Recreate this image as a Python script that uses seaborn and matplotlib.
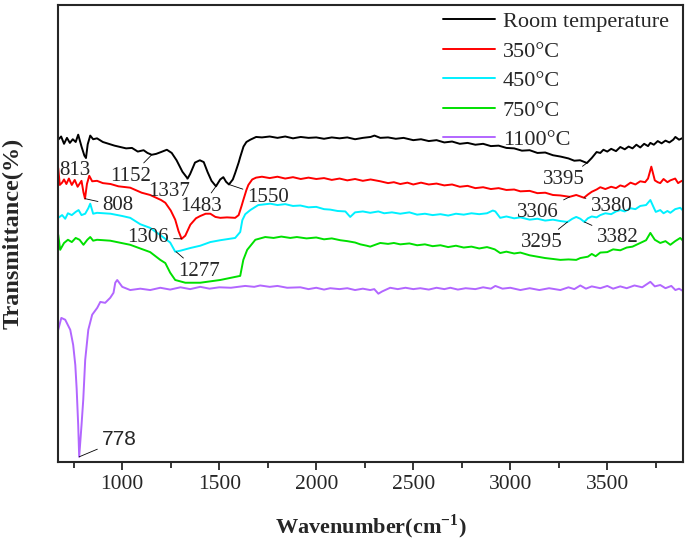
import pandas as pd
import matplotlib
matplotlib.use("Agg")
import matplotlib.pyplot as plt
import seaborn as sns

# FTIR spectra (wavenumber in cm-1, transmittance in arbitrary %)
rt_wn = [670, 685, 700, 715, 730, 745, 760, 773, 790, 805, 813, 822, 835, 850, 870, 900, 930, 960,
         990, 1020, 1050, 1080, 1110, 1130, 1152, 1175, 1200, 1230, 1255, 1280, 1310, 1337, 1350,
         1375, 1400, 1420, 1440, 1460, 1483, 1505, 1521, 1535, 1550, 1570, 1582, 1600, 1608, 1625,
         1640, 1660, 1690, 1720,
         1760, 1800, 1840, 1880, 1920, 1960, 2000, 2040, 2080, 2120, 2160, 2200, 2240, 2280, 2300,
         2330, 2370, 2410, 2450, 2500, 2540, 2580, 2620, 2660, 2700, 2740, 2780, 2820, 2860, 2900,
         2940, 2980, 3020, 3060, 3100, 3140, 3180, 3220, 3260, 3300, 3330, 3360, 3395, 3420, 3445,
         3464, 3480, 3500, 3520, 3545, 3567, 3590, 3610, 3630, 3650, 3670, 3690, 3710, 3722, 3740,
         3760, 3780, 3800, 3820, 3840, 3851, 3870, 3890]
rt_t = [70.5, 71.2, 69.6, 70.9, 69.8, 70.6, 70.0, 71.6, 69.0, 67.0, 66.5, 69.5, 71.4, 70.6, 70.8,
        70.0, 69.6, 69.2, 68.9, 68.6, 68.7, 67.9, 68.2, 67.6, 67.2, 67.4, 67.8, 68.3, 67.6, 66.0,
        63.5, 62.0, 63.0, 65.5, 66.0, 65.6, 63.4, 61.5, 60.3, 61.8, 62.3, 61.3, 60.7, 61.8, 63.2,
        65.5, 66.7, 69.0, 70.0, 70.5, 71.1, 71.0,
        71.2, 70.9, 71.2, 70.8, 71.1, 70.9, 71.0, 70.7, 71.0, 70.8, 71.0, 70.6, 70.9, 71.1, 71.4,
        70.9, 71.0, 70.7, 70.9, 70.4, 70.6, 70.2, 70.4, 69.9, 70.1, 69.6, 69.8, 69.4, 69.6, 69.1,
        69.2, 68.7, 68.6, 68.1, 68.2, 67.6, 67.7, 67.1, 66.8, 66.4, 65.9, 66.0, 65.4, 66.5, 67.8,
        67.6, 68.3, 67.9, 68.5, 68.0, 68.9, 68.4, 69.0, 68.6, 69.4, 68.8, 69.6, 69.1, 69.8, 69.4,
        70.2, 69.7, 70.3, 69.9, 70.5, 71.1, 70.5, 70.9]

r350_wn = [670, 678, 690, 700, 712, 725, 740, 755, 770, 790, 800, 808, 818, 830, 845, 870, 900, 940,
           980, 1041, 1100, 1144, 1200, 1222, 1250, 1273, 1290, 1306, 1325, 1351, 1380, 1402, 1430,
           1454, 1480, 1505, 1540, 1582, 1600, 1615, 1624, 1640, 1650, 1670, 1690, 1720,
           1760, 1800, 1840, 1880, 1920, 1960, 2000, 2040, 2080, 2120, 2160, 2200, 2240, 2280, 2330,
           2370, 2400, 2433, 2470, 2500, 2540, 2580, 2620, 2660, 2700, 2740, 2780, 2820, 2860, 2900,
           2940, 2980, 3020, 3052, 3100, 3140, 3180, 3220, 3258, 3306, 3340, 3360, 3380, 3400, 3420,
           3445, 3464, 3490, 3520, 3545, 3567, 3590, 3620, 3645, 3670, 3695, 3710, 3727, 3745, 3760,
           3773, 3790, 3810, 3825, 3850, 3865, 3876, 3890]
r350_t = [64.3, 60.6, 61.1, 61.8, 60.8, 62.0, 60.6, 61.7, 60.2, 61.5, 59.0, 57.6, 60.8, 62.6, 61.4,
          61.5, 61.0, 60.8, 60.3, 60.0, 58.9, 58.4, 57.3, 56.7, 55.0, 53.0, 50.5, 48.8, 49.5, 51.9,
          53.3, 53.8, 54.3, 54.3, 53.6, 53.4, 53.5, 53.4, 54.0, 56.0, 57.3, 59.5, 60.6, 61.8, 62.2,
          62.4,
          62.1, 62.4, 62.0, 62.3, 61.9, 62.2, 61.9, 62.1, 61.7, 62.0, 61.6, 61.9, 61.5, 61.8, 61.4,
          61.0, 61.2, 60.8, 61.1, 60.7, 61.1, 60.7, 60.9, 60.5, 60.7, 60.2, 60.4, 59.9, 60.1, 59.7,
          59.9, 59.5, 59.6, 59.2, 59.3, 58.8, 58.9, 58.4, 58.3, 58.0, 58.4, 58.1, 57.8, 58.5, 59.1,
          59.6, 60.1, 59.7, 60.2, 59.9, 60.5, 60.2, 61.1, 60.7, 61.4, 61.2, 62.0, 64.6, 61.6, 61.2,
          61.0, 61.9, 61.2, 61.6, 62.0, 61.0, 61.3, 61.6]

c450_wn = [670, 690, 706, 720, 740, 760, 775, 790, 809, 825, 835, 850, 870, 940, 1000, 1041, 1093,
           1144, 1200, 1247, 1273, 1299, 1351, 1402, 1454, 1505, 1582, 1608, 1619, 1634, 1660, 1701,
           1763, 1800, 1840, 1880, 1918, 1960, 2000, 2040, 2072, 2110, 2150, 2175, 2200, 2240, 2278,
           2320, 2350, 2390, 2433, 2480, 2520, 2560, 2600, 2640, 2680, 2720, 2760, 2800, 2840, 2880,
           2910, 2923, 2948, 2980, 3020, 3052, 3100, 3140, 3180, 3220, 3258, 3295, 3320, 3340, 3361,
           3382, 3400, 3420, 3445, 3464, 3490, 3520, 3545, 3567, 3590, 3620, 3645, 3670, 3700, 3722,
           3740, 3750, 3773, 3790, 3810, 3825, 3850, 3876, 3890]
c450_t = [53.4, 54.0, 53.2, 54.4, 54.0, 54.7, 55.1, 54.0, 54.3, 55.5, 56.5, 54.3, 54.5, 54.3, 53.8,
          53.4, 52.0, 51.2, 49.5, 48.0, 46.0, 46.2, 46.8, 47.3, 48.1, 48.5, 49.0, 50.3, 52.9, 54.2,
          55.1, 56.2,
          56.5, 56.2, 56.4, 56.0, 56.1, 55.7, 55.8, 55.3, 55.2, 54.9, 54.8, 53.6, 54.6, 54.8, 54.5,
          54.8, 54.4, 54.6, 54.3, 54.6, 54.1, 54.3, 54.0, 54.2, 53.9, 54.3, 54.1, 54.4, 54.2, 54.4,
          55.0, 54.8, 53.4, 53.7, 53.3, 53.5, 53.0, 53.2, 52.8, 53.0, 52.7, 52.5, 53.2, 53.6, 53.2,
          52.5, 53.3, 53.7, 53.5, 54.0, 54.4, 54.2, 54.8, 55.1, 54.8, 55.5, 55.3, 56.0, 56.2, 57.3,
          55.6, 54.7, 55.1, 54.4, 54.9, 54.5, 55.3, 55.6, 55.0]

g750_wn = [670, 680, 700, 720, 740, 760, 780, 800, 820, 835, 850, 870, 938, 1041, 1144, 1196, 1222,
           1247, 1273, 1325, 1402, 1505, 1608, 1624, 1644, 1686,
           1737, 1780, 1820, 1866, 1900, 1950, 2000, 2040, 2080, 2124, 2160, 2200, 2227, 2260, 2278,
           2310, 2330, 2370, 2400, 2433, 2480, 2520, 2560, 2600, 2640, 2680, 2720, 2760, 2800, 2840,
           2880, 2897, 2920, 2948, 2980, 3020, 3052, 3100, 3140, 3180, 3220, 3258, 3300, 3340, 3361,
           3400, 3420, 3440, 3464, 3500, 3530, 3567, 3600, 3630, 3670, 3700, 3722, 3745, 3773, 3800,
           3825, 3850, 3876, 3890]
g750_t = [49.7, 46.4, 47.9, 48.6, 48.1, 49.0, 48.6, 47.5, 48.6, 49.2, 48.4, 48.6, 48.4, 47.5, 45.9,
          44.2, 43.5, 41.4, 39.8, 39.2, 39.2, 39.8, 40.7, 44.2, 46.4, 48.6,
          49.2, 49.0, 49.3, 49.0, 49.2, 48.9, 49.1, 48.7, 48.9, 48.5, 48.3, 48.0, 47.6, 47.3, 47.1,
          47.6, 47.9, 47.7, 47.9, 47.6, 47.8, 47.4, 47.6, 47.2, 47.4, 47.0, 47.3, 46.9, 47.1, 46.7,
          47.0, 46.8, 46.5, 45.7, 46.0, 45.6, 45.8, 45.2, 44.9, 44.6, 44.4, 44.2, 44.3, 44.2, 44.6,
          44.9, 45.5, 45.0, 45.8, 45.9, 46.5, 46.3, 46.9, 47.1, 47.9, 48.5, 50.1, 48.6, 47.9, 48.3,
          47.5, 48.3, 49.0, 48.4]

p1100_wn = [670, 686, 706, 732, 747, 758, 765, 773, 778, 790, 799, 809, 825, 845, 871, 887, 912, 938,
            955, 964, 974, 1000, 1041, 1093, 1144, 1196, 1247, 1300, 1350, 1402, 1450, 1500, 1560,
            1634, 1680, 1711, 1760, 1800, 1850, 1918, 1960, 2000, 2040, 2072, 2120, 2160, 2200, 2240,
            2278, 2299, 2320, 2340, 2381, 2420, 2460, 2500, 2536, 2580, 2620, 2660, 2691, 2730, 2770,
            2820, 2860, 2900, 2923, 2960, 3000, 3052, 3100, 3150, 3200, 3258, 3300, 3330, 3361, 3390,
            3420, 3464, 3500, 3530, 3567, 3600, 3640, 3680, 3722, 3745, 3773, 3800, 3830, 3851, 3870,
            3890]
p1100_t = [28.9, 31.5, 31.1, 28.9, 25.6, 21.2, 16.0, 8.0, 1.1, 8.0, 13.6, 22.3, 28.9, 32.2, 33.7,
           35.0, 34.8, 35.9, 37.0, 39.2, 39.8, 38.3, 37.6, 37.9, 37.6, 38.1, 37.7, 38.2, 37.8, 38.3,
           37.9, 38.2, 38.1,
           38.5, 38.3, 38.6, 38.3, 38.5, 38.1, 38.2, 37.8, 38.1, 37.7, 38.0, 37.8, 38.0, 37.6, 37.9,
           37.6, 37.8, 36.8, 37.3, 38.1, 37.8, 38.1, 37.8, 38.0, 37.7, 38.1, 37.8, 38.1, 37.7, 38.0,
           37.8, 38.2, 37.9, 38.5, 37.9, 38.1, 37.6, 38.0, 37.6, 38.0, 37.6, 38.2, 37.8, 38.6, 37.9,
           38.4, 38.0, 38.5, 37.9, 38.4, 38.0, 38.6, 38.2, 39.4, 38.4, 38.7, 38.0, 38.5, 37.6, 37.9,
           37.4]

labels = ["Room temperature", "350°C", "450°C", "750°C", "1100°C"]
colors = ["black", "#ff0000", "#00f0ff", "#00e000", "#b266ff"]

frames = []
for name, wn, t in zip(labels,
                       [rt_wn, r350_wn, c450_wn, g750_wn, p1100_wn],
                       [rt_t, r350_t, c450_t, g750_t, p1100_t]):
    frames.append(pd.DataFrame({"wn": wn, "T": t, "sample": name}))
df = pd.concat(frames, ignore_index=True)

# peak labels: (text, wavenumber, value at peak, text x, text y)
peaks = [
    ("813", 813, 66.5, 758, 63.7), ("1152", 1152, 67.2, 1041, 62.4),
    ("1337", 1337, 62.0, 1242, 59.1), ("1483", 1483, 60.3, 1407, 55.8),
    ("1550", 1550, 60.7, 1753, 57.8), ("808", 808, 57.6, 979, 56.0),
    ("1306", 1306, 48.8, 1134, 49.0), ("1277", 1277, 46.0, 1397, 41.6),
    ("3395", 3395, 65.4, 3278, 61.7), ("3306", 3306, 58.0, 3144, 54.5),
    ("3380", 3380, 57.8, 3521, 55.8), ("3295", 3295, 52.5, 3160, 47.9),
    ("3382", 3382, 52.5, 3552, 49.2),
]

sns.set_style("ticks")
plt.rcParams["font.family"] = ["Liberation Serif", "DejaVu Serif"]
plt.rcParams["mathtext.fontset"] = "custom"
plt.rcParams["mathtext.rm"] = "Liberation Serif"
plt.rcParams["mathtext.bf"] = "Liberation Serif:bold"

fig, ax = plt.subplots(figsize=(6.85, 5.44), dpi=100)
fig.subplots_adjust(left=0.085, right=0.997, bottom=0.151, top=0.991)

sns.lineplot(data=df, x="wn", y="T", hue="sample", hue_order=labels, palette=colors,
             estimator=None, sort=False, linewidth=1.4, ax=ax)

for txt, px, py, tx, ty in peaks:
    ax.annotate(txt, xy=(px, py), xytext=(tx, ty), ha="center", va="center", fontsize=15,
                arrowprops=dict(arrowstyle="-", color="black", lw=0.6, shrinkA=1, shrinkB=0))
ax.annotate("778", xy=(778, 1.1), xytext=(985, 4.8), ha="center", va="center", fontsize=15,
            family="Liberation Sans",
            arrowprops=dict(arrowstyle="-", color="black", lw=0.6, shrinkA=1, shrinkB=0))

ax.set_xlim(670, 3890)
ax.set_ylim(0, 100)
ax.set_xticks([1000, 1500, 2000, 2500, 3000, 3500])
ax.set_xticks([750, 1250, 1750, 2250, 2750, 3250, 3750], minor=True)
ax.set_yticks([])
ax.tick_params(axis="x", which="major", direction="out", length=6, width=1.3, labelsize=15.5)
ax.tick_params(axis="x", which="minor", direction="out", length=4, width=1.3)
for s in ax.spines.values():
    s.set_linewidth(1.5)

ax.set_xlabel(r"Wavenumber(cm$^{\mathbf{-1}}$)", fontsize=16, fontweight="bold", labelpad=13)
ax.set_ylabel("Transmittance(%)", fontsize=17.5, fontweight="bold", labelpad=25)

leg = ax.legend(loc="upper right", bbox_to_anchor=(1.006, 1.024), frameon=False, fontsize=16,
                handlelength=2.35, labelspacing=0.4, borderaxespad=0.4, handletextpad=0.35)
for line in leg.get_lines():
    line.set_linewidth(1.4)

fig.savefig("out.png", dpi=100)
